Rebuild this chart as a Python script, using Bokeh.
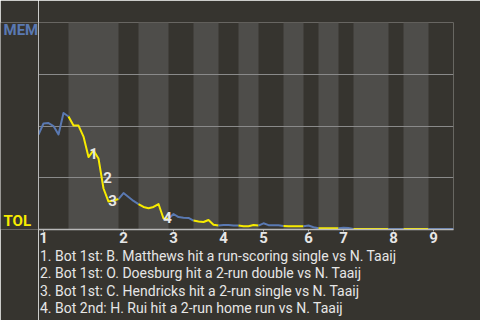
from bokeh.plotting import figure
from bokeh.layouts import row
from bokeh.models import Range1d, FixedTicker, Title, ColumnDataSource
from bokeh.embed import file_html
from bokeh.resources import INLINE
from bokeh.core.properties import value

# ---------------- data ----------------
away_team = "MEM"
home_team = "TOL"

# win probability for the away team (MEM) after each play (play 0 = first pitch)
win_prob = [0.459, 0.512, 0.514, 0.500, 0.459, 0.563, 0.546, 0.502, 0.502, 0.449,
            0.350, 0.382, 0.343, 0.198, 0.135, 0.140, 0.147, 0.176, 0.157, 0.138,
            0.123, 0.109, 0.103, 0.109, 0.123, 0.053, 0.052, 0.075, 0.060, 0.057,
            0.056, 0.043, 0.039, 0.036, 0.046, 0.023, 0.019, 0.022, 0.022, 0.019,
            0.019, 0.016, 0.016, 0.022, 0.019, 0.030, 0.021, 0.021, 0.021, 0.017,
            0.016, 0.016, 0.016, 0.016, 0.019, 0.011, 0.006, 0.006, 0.006, 0.006,
            0.006, 0.008, 0.007, 0.003, 0.003, 0.003, 0.003, 0.003, 0.003, 0.003,
            0.003, 0.003, 0.003, 0.003, 0.003, 0.003, 0.003, 0.003, 0.003, 0.003,
            0.003, 0.003, 0.003, 0.003]

# play index at which each half-inning ends (Top 1, Bot 1, Top 2, ...)
half_inning_ends = [6, 16, 20, 26, 31, 36, 40, 44, 49, 53, 56, 60, 63, 70, 73, 78, 83]

inning_labels = ["1", "2", "3", "4", "5", "6", "7", "8", "9"]
inning_first_play = [1, 17, 27, 37, 45, 54, 61, 71, 79]

event_numbers = ["1", "2", "3", "4"]
event_x = [11.0, 13.8, 14.8, 25.8]
event_y = [0.367, 0.251, 0.140, 0.058]
event_texts = [
    "1. Bot 1st: B. Matthews hit a run-scoring single vs N. Taaij",
    "2. Bot 1st: O. Doesburg hit a 2-run double vs N. Taaij",
    "3. Bot 1st: C. Hendricks hit a 2-run single vs N. Taaij",
    "4. Bot 2nd: H. Rui hit a 2-run home run vs N. Taaij",
]

# ---------------- style ----------------
BG = "#36342f"
BAND = "#4e4d4a"
GRID = "#8a8a8a"
AXIS = "#b8b8b8"
BLUE = "#5a79b2"
YELLOW = "#f7eb00"
TEXT = "#e6e6e6"
FONT = "Roboto"

y_range = Range1d(0, 1)

# ---------- narrow side panel with team labels ----------
side = figure(width=38, height=320, output_backend="svg", toolbar_location=None,
              x_range=Range1d(0, 1), y_range=y_range,
              x_axis_location=None, y_axis_location=None,
              min_border_left=0, min_border_right=0, min_border_top=22,
              min_border_bottom=91)
side.grid.visible = False
side.outline_line_color = None
side.background_fill_color = BG
side.border_fill_color = BG
side.text(x=[0, 0], y=[1, 0], text=[away_team, home_team],
          text_color=[BLUE, YELLOW], x_offset=3, y_offset=[7, -9],
          text_font=value(FONT), text_font_style="bold", text_font_size="15px",
          text_align="left", text_baseline="alphabetic")

# ---------- main chart ----------
p = figure(width=442, height=320, output_backend="svg", toolbar_location=None,
           x_range=Range1d(0, half_inning_ends[-1]), y_range=y_range,
           min_border_left=0, min_border_right=27, min_border_top=22,
           min_border_bottom=91)
p.background_fill_color = BG
p.border_fill_color = BG
p.outline_line_color = None

# bottom-half bands
starts = [0] + half_inning_ends[:-1]
band_src = ColumnDataSource(dict(
    left=[s for k, s in enumerate(starts) if k % 2 == 1],
    right=[e for k, e in enumerate(half_inning_ends) if k % 2 == 1],
))
p.quad(left="left", right="right", bottom=0, top=1, source=band_src,
       fill_color=BAND, line_color=None, level="image")

# grid
p.xgrid.visible = False
p.ygrid.ticker = FixedTicker(ticks=[0.25, 0.5, 0.75, 1.0])
p.ygrid.grid_line_color = GRID
p.ygrid.grid_line_width = 1

# line, coloured by half-inning
for k, (s, e) in enumerate(zip(starts, half_inning_ends)):
    xs = list(range(s, e + 1))
    ys = win_prob[s:e + 1]
    p.line(xs, ys, line_width=2, line_color=BLUE if k % 2 == 0 else YELLOW,
           line_join="round")

# event markers
p.text(x=event_x, y=event_y, text=event_numbers, text_color=TEXT,
       text_font=value(FONT), text_font_style="bold", text_font_size="15px",
       text_align="center", text_baseline="middle")

# axes
p.yaxis.ticker = FixedTicker(ticks=[])
p.yaxis.major_label_text_font_size = "0px"
p.yaxis.major_label_standoff = 0
p.yaxis.major_tick_out = 0
p.yaxis.major_tick_in = 0
p.yaxis.minor_tick_out = 0
p.yaxis.minor_tick_in = 0
p.yaxis.major_tick_line_color = None
p.yaxis.minor_tick_line_color = None
p.yaxis.axis_line_color = AXIS

p.xaxis.ticker = FixedTicker(ticks=inning_first_play)
p.xaxis.major_label_overrides = {t: l for t, l in zip(inning_first_play, inning_labels)}
p.xaxis.major_label_text_color = TEXT
p.xaxis.major_label_text_font = FONT
p.xaxis.major_label_text_font_style = "bold"
p.xaxis.major_label_text_font_size = "15px"
p.xaxis.major_label_standoff = 0
p.xaxis.major_tick_out = 2
p.xaxis.major_tick_in = 0
p.xaxis.major_tick_line_color = AXIS
p.xaxis.minor_tick_line_color = None
p.xaxis.axis_line_color = AXIS
p.xaxis.axis_line_width = 1.5

# event descriptions below the chart
p.add_layout(Title(text="\n".join(event_texts), align="left", offset=1.5, standoff=0,
                   text_color=TEXT, text_font=FONT, text_font_style="normal",
                   text_font_size="14px", text_line_height=1.1), "below")

layout = row(side, p)
open("out.html", "w").write(file_html(layout, INLINE))
